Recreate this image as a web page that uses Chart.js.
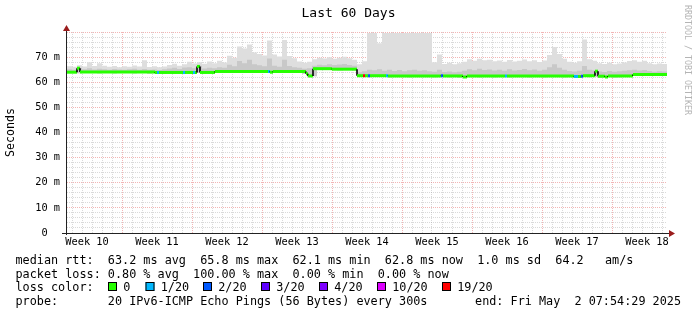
<!DOCTYPE html>
<html><head><meta charset="utf-8">
<script src="https://cdn.jsdelivr.net/npm/chart.js@4.4.1/dist/chart.umd.min.js"></script>
<style>html,body{margin:0;padding:0;background:#fff}#wrap{width:697px;height:315px}</style>
</head><body><div id="wrap"><canvas id="c" width="697" height="315"></canvas></div>
<script>
// ---------- data ----------
const TITLE = "Last 60 Days";
const Y_TITLE = "Seconds";
const WEEK_LABELS = ["Week 10","Week 11","Week 12","Week 13","Week 14","Week 15","Week 16","Week 17","Week 18"];
const WEEK_LABEL_DAYS = [2,9,16,23,30,37,44,51,58];
const WEEK_START_DAYS = [5.5,12.5,19.5,26.5,33.5,40.5,47.5,54.5];
const Y_LABEL_VALUES = [0,10,20,30,40,50,60,70];
const Y_LABELS = ["0  ","10 m","20 m","30 m","40 m","50 m","60 m","70 m"];

// smoke, one value per half day (ms)
const smokeHigh = [
 66.4,66.2,66.8,66.3,68.0,66.5,67.6,66.6,
 66.2,66.5,66.0,66.4,66.2,66.7,66.3,68.8,
 66.1,66.4,66.0,66.3,66.9,67.4,66.6,67.2,
 68.2,67.5,68.0,67.4,68.3,67.6,68.6,67.9,
 70.5,69.8,74.2,73.4,75.0,71.8,71.2,70.6,
 76.6,71.0,70.2,76.8,70.4,69.6,68.3,67.8,
 68.2,69.2,69.8,69.5,70.0,69.4,69.8,70.1,
 69.6,69.0,67.2,68.4,79.6,79.6,75.5,79.6,
 79.6,79.6,79.6,79.6,79.6,79.6,79.6,79.6,
 79.6,68.0,71.0,67.3,67.8,67.2,67.6,68.2,
 69.2,68.6,69.4,68.8,69.0,68.4,68.7,68.2,
 68.9,68.3,68.6,69.1,68.4,68.8,68.1,68.7,
 70.8,74.0,71.2,69.4,68.2,67.8,68.4,77.0,
 69.2,68.6,67.6,67.3,67.8,67.2,67.5,67.9,
 68.5,68.8,68.2,68.6,67.6,67.2,67.5,67.3];
const smokeInner = [
 65.2,65.0,65.8,65.2,65.6,65.1,65.4,65.2,
 65.0,65.3,65.1,65.0,65.2,65.4,65.0,65.3,
 65.0,65.1,64.9,65.2,65.5,65.8,65.3,65.9,
 66.0,65.6,66.6,65.5,65.8,65.6,66.0,65.8,
 67.0,66.4,68.5,67.6,69.0,67.2,66.8,66.4,
 69.5,66.6,66.2,69.0,66.5,66.0,65.8,65.4,
 65.6,66.6,67.0,66.8,67.2,66.9,67.1,67.3,
 66.9,66.6,64.0,64.4,65.0,64.8,65.2,64.6,
 65.0,64.5,64.9,64.4,64.8,65.0,64.6,64.8,
 64.4,64.2,65.0,64.1,64.3,64.0,64.2,64.6,
 65.2,64.8,65.4,64.9,65.1,64.7,65.0,64.6,
 65.2,64.7,64.9,65.3,64.8,65.1,64.6,65.0,
 66.0,67.2,65.8,65.0,64.5,64.3,64.6,66.5,
 65.0,64.8,64.3,64.1,64.5,64.2,64.4,64.6,
 64.8,65.0,64.7,64.9,64.5,64.2,64.4,64.3];
const smokeLow = [
 63.7,63.8,63.6,63.7,63.7,63.8,63.6,63.7,
 63.7,63.6,63.8,63.7,63.7,63.6,63.7,63.7,
 63.5,63.6,63.5,63.4,63.6,63.5,63.6,63.5,
 63.6,63.4,63.7,63.6,63.9,64.0,64.0,63.9,
 64.0,64.1,64.0,63.9,64.0,64.1,63.9,64.0,
 63.9,64.0,64.1,64.0,63.9,64.0,63.8,63.4,
 62.2,62.4,65.0,64.9,65.1,65.0,64.8,64.9,
 64.9,64.8,62.2,62.1,62.0,62.1,62.2,62.1,
 62.0,62.1,62.2,62.1,62.0,62.1,62.1,62.2,
 62.1,62.0,62.1,62.2,62.0,62.1,61.9,62.1,
 62.1,62.2,62.0,62.1,62.1,62.0,62.2,62.1,
 62.0,62.1,62.1,62.2,62.0,62.1,62.1,62.0,
 62.1,62.2,62.1,62.0,62.1,62.0,62.1,62.2,
 62.0,62.1,61.9,62.0,62.1,61.9,62.0,62.1,
 62.4,62.5,62.6,62.5,62.6,62.5,62.6,62.5];
const SMOKE_STEP_DAYS = 0.5;
const TOTAL_DAYS = 60;

// median rtt: change points (day, ms, lost pings of 20)
const medianDays   = [0,1.0,1.3,8.8,9.0,9.2,11.6,11.8,12.6,12.8,13.0,13.3,14.8,20.1,20.3,20.6,23.9,24.1,24.6,26.5,29.0,29.6,29.8,30.1,30.3,31.9,32.1,37.4,37.6,39.6,40.0,43.8,44.0,50.7,51.1,51.4,51.6,52.8,53.1,53.8,54.1,56.6];
const medianValues = [64.0,65.6,64.1,63.9,63.9,63.9,63.9,63.9,63.9,63.9,66.3,63.9,64.3,64.3,64.0,64.3,63.4,62.5,65.4,65.2,62.6,62.6,62.6,62.6,62.6,62.6,62.5,62.6,62.5,62.1,62.5,62.5,62.5,62.3,62.3,62.4,62.6,64.4,62.4,62.1,62.5,63.1];
const medianLoss   = [0,0,0,0,1,0,1,0,1,0,0,0,0,1,0,0,0,0,0,0,0,19,0,2,0,1,0,2,0,0,0,1,0,1,0,2,0,0,0,0,0,0];

const LOSS_LEVELS = [0,1,2,3,4,10,19];
const LOSS_LABELS = ["0","1/20","2/20","3/20","4/20","10/20","19/20"];
const LOSS_COLORS = ["#26ff00","#00b8ff","#0059ff","#5e00ff","#7e00ff","#dd00ff","#ff0000"];

const LEGEND_RTT  = "median rtt:  63.2 ms avg  65.8 ms max  62.1 ms min  62.8 ms now  1.0 ms sd  64.2   am/s";
const LEGEND_LOSS = "packet loss: 0.80 % avg  100.00 % max  0.00 % min  0.00 % now";
const LEGEND_COLOR = "loss color:";
const LEGEND_PROBE = "probe:       20 IPv6-ICMP Echo Pings (56 Bytes) every 300s";
const LEGEND_END   = "end: Fri May  2 07:54:29 2025";
const WATERMARK = "RRDTOOL / TOBI OETIKER";

// ---------- build ----------
const MONO = "'DejaVu Sans Mono', monospace";
function smokeSeries(arr){
  const pts = arr.map((v,i)=>({x:i*SMOKE_STEP_DAYS, y:v}));
  pts.push({x:TOTAL_DAYS, y:arr[arr.length-1]});
  return pts;
}
function lossColor(n){
  let c = LOSS_COLORS[0];
  for (let i=0;i<LOSS_LEVELS.length;i++) if (n>=LOSS_LEVELS[i]) c = LOSS_COLORS[i];
  return c;
}
const medianPts = [];
medianDays.forEach((d,i)=>{
  if (i>0) medianPts.push({x:d, y:medianValues[i-1], loss:medianLoss[i-1]});
  medianPts.push({x:d, y:medianValues[i], loss:medianLoss[i]});
});
medianPts.push({x:TOTAL_DAYS, y:medianValues[medianValues.length-1], loss:medianLoss[medianLoss.length-1]});

const xTicks = [];
for (let d=0.5; d<TOTAL_DAYS; d+=1) xTicks.push(d);
WEEK_LABEL_DAYS.forEach(d=>xTicks.push(d));
xTicks.sort((a,b)=>a-b);
const yTicks = [];
for (let v=0; v<=80; v+=2) yTicks.push(v);

const GRID_MINOR = "rgba(140,140,140,0.33)";
const GRID_MAJOR = "rgba(220,50,50,0.36)";
const AXIS_FONT = 10.3;

const decor = {
  id:'rrdDecor',
  afterDraw(chart){
    const ctx = chart.ctx, a = chart.chartArea;
    ctx.save();
    ctx.fillStyle = '#222';
    ctx.fillRect(a.left-1, a.top-3, 1, a.bottom-a.top+5);
    ctx.fillRect(a.left-5, a.bottom, a.right-a.left+8, 1);
    ctx.fillStyle = '#9a1c1c';
    ctx.beginPath();
    ctx.moveTo(a.left-0.5, a.top-7); ctx.lineTo(a.left-4, a.top-1); ctx.lineTo(a.left+3, a.top-1); ctx.closePath(); ctx.fill();
    ctx.beginPath();
    ctx.moveTo(a.right+8, a.bottom+0.5); ctx.lineTo(a.right+2, a.bottom-3); ctx.lineTo(a.right+2, a.bottom+4); ctx.closePath(); ctx.fill();
    ctx.font = "11.8px " + MONO;
    ctx.fillStyle = '#000';
    ctx.textBaseline = 'alphabetic';
    ctx.textAlign = 'left';
    ctx.fillText(LEGEND_RTT, 15.5, 263.5);
    ctx.fillText(LEGEND_LOSS, 15.5, 277.5);
    ctx.fillText(LEGEND_COLOR, 15.5, 291.3);
    const boxX = [108,145.5,203,261,319,377,442];
    LOSS_LABELS.forEach((lab,i)=>{
      ctx.fillStyle = LOSS_COLORS[i];
      ctx.fillRect(boxX[i], 282, 9, 9);
      ctx.strokeStyle = '#000'; ctx.lineWidth = 1;
      ctx.strokeRect(boxX[i]+0.5, 282.5, 8, 8);
      ctx.fillStyle = '#000';
      ctx.fillText(lab, boxX[i]+15.2, 291.3);
    });
    ctx.fillText(LEGEND_PROBE, 15.5, 305.3);
    ctx.textAlign = 'right';
    ctx.fillText(LEGEND_END, 681, 305.3);
    ctx.translate(687, 5);
    ctx.rotate(Math.PI/2);
    ctx.textAlign = 'left';
    ctx.textBaseline = 'middle';
    ctx.font = "8.3px " + MONO;
    ctx.fillStyle = '#b4b4b4';
    ctx.fillText(WATERMARK, 0, 0);
    ctx.restore();
  }
};

new Chart(document.getElementById('c'), {
  type:'line',
  data:{ datasets:[
    { label:'median', data:medianPts, xAxisID:'x', yAxisID:'y', order:0,
      borderColor:LOSS_COLORS[0], borderWidth:3, pointRadius:0, fill:false, tension:0,
      segment:{
        borderColor: c => (Math.abs(c.p0.x - c.p1.x) < 0.01) ? '#000' : lossColor(medianPts[c.p0DataIndex].loss),
        borderWidth: c => (Math.abs(c.p0.x - c.p1.x) < 0.01) ? 1.6 : 3
      } },
    { label:'smoke inner', data:smokeSeries(smokeInner), xAxisID:'x', yAxisID:'y', order:1,
      stepped:true, borderWidth:0, pointRadius:0, fill:3, backgroundColor:'#c8c8c8' },
    { label:'smoke', data:smokeSeries(smokeHigh), xAxisID:'x', yAxisID:'y', order:2,
      stepped:true, borderWidth:0, pointRadius:0, fill:3, backgroundColor:'#dedede' },
    { label:'smoke low', data:smokeSeries(smokeLow), xAxisID:'x', yAxisID:'y', order:3,
      stepped:true, borderWidth:0, pointRadius:0, fill:false }
  ]},
  options:{
    responsive:false, animation:false, events:[],
    layout:{ padding:{ left:0, right:0, top:0, bottom:62 } },
    plugins:{
      legend:{ display:false }, tooltip:{ enabled:false },
      title:{ display:true, text:TITLE, color:'#000',
        font:{ family:MONO, size:13, weight:'normal', lineHeight:1.2 },
        padding:{ top:6, bottom:10.4 } }
    },
    scales:{
      x:{ type:'linear', position:'bottom', min:0, max:TOTAL_DAYS, z:1,
        afterBuildTicks: s => { s.ticks = xTicks.map(v=>({value:v})); },
        afterFit: s => { s.height = 20; },
        ticks:{ autoSkip:false, maxRotation:0, minRotation:0, padding:3, color:'#000',
          font:{ family:MONO, size:AXIS_FONT },
          callback: v => { const i = WEEK_LABEL_DAYS.indexOf(v); return i>=0 ? WEEK_LABELS[i] : ''; } },
        grid:{ drawTicks:false, lineWidth: c => WEEK_LABEL_DAYS.includes(c.tick.value) ? 0 : 1,
          color: c => WEEK_START_DAYS.includes(c.tick.value) ? GRID_MAJOR : GRID_MINOR },
        border:{ display:false, dash:[1,1] }
      },
      y:{ type:'linear', position:'left', min:0, max:80, z:1,
        afterBuildTicks: s => { s.ticks = yTicks.map(v=>({value:v})); },
        afterFit: s => { s.width = 67; },
        ticks:{ autoSkip:false, padding:7, color:'#000', font:{ family:MONO, size:AXIS_FONT },
          callback: v => { const i = Y_LABEL_VALUES.indexOf(v); return i>=0 ? Y_LABELS[i] : ''; } },
        grid:{ drawTicks:false, lineWidth:1,
          color: c => (c.tick.value % 10 === 0) ? GRID_MAJOR : GRID_MINOR },
        border:{ display:false, dash:[1,1] },
        title:{ display:true, text:Y_TITLE, color:'#000', font:{ family:MONO, size:11.6, lineHeight:1.2 }, padding:{ top:3.6, bottom:0 } }
      },
      yR:{ type:'linear', position:'right', display:true,
        afterFit: s => { s.width = 30; },
        ticks:{ display:false }, grid:{ display:false, drawTicks:false }, border:{ display:false } }
    }
  },
  plugins:[decor]
});
</script>
</body></html>
